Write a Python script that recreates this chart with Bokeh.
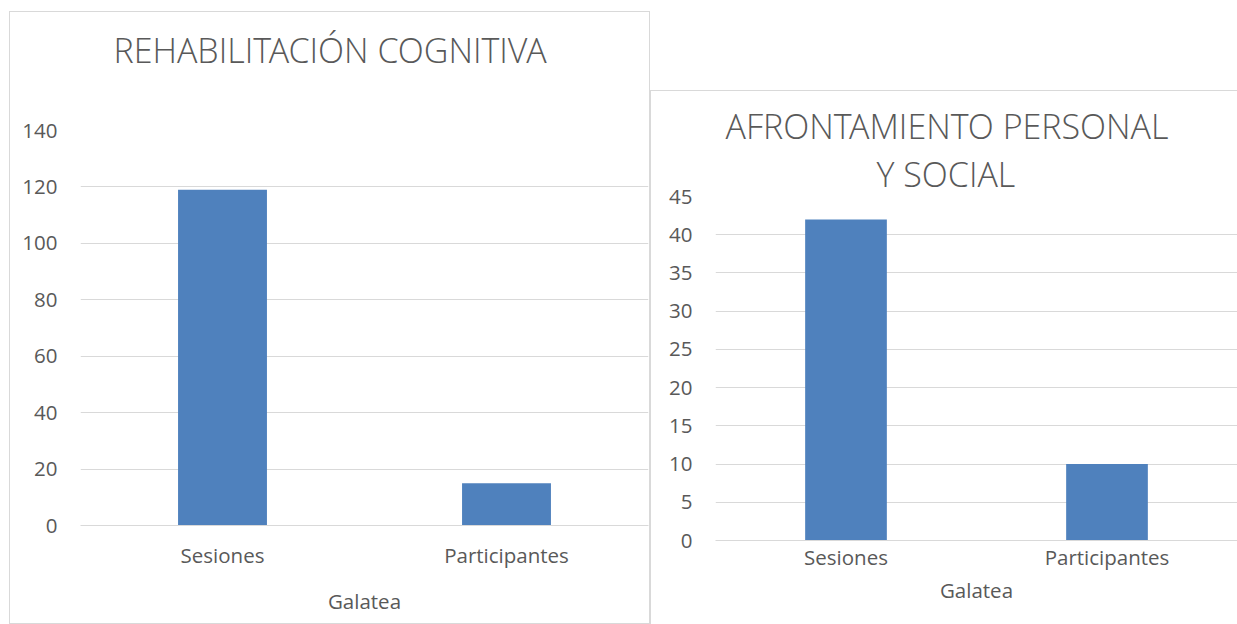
from bokeh.plotting import figure
from bokeh.models import FactorRange, Range1d, FixedTicker, Title
from bokeh.layouts import row
from bokeh.embed import file_html
from bokeh.resources import INLINE

# ---- data ----
group = "Galatea"
categories = ["Sesiones", "Participantes"]
rehab_values = [119, 15]
afront_values = [42, 10]
rehab_ticks = [0, 20, 40, 60, 80, 100, 120, 140]
afront_ticks = [0, 5, 10, 15, 20, 25, 30, 35, 40, 45]
rehab_title = ["REHABILITACIÓN COGNITIVA"]
afront_title = ["AFRONTAMIENTO PERSONAL", "Y SOCIAL"]

BAR = "#4f81bd"
TXT = "#595959"
GRID = "#d9d9d9"
FONT = "Open Sans"
TFONT = "Open Sans Light, Open Sans"
LBL = "20.5px"


def make(values, ticks, width, height, margin, mb, shadow, x_standoff):
    factors = [(group, c) for c in categories]
    p = figure(
        x_range=FactorRange(*factors, range_padding=0, factor_padding=0, group_padding=0),
        y_range=Range1d(0, ticks[-1]),
        width=width, height=height,
        output_backend="svg", toolbar_location=None,
        min_border_left=mb[0], min_border_right=mb[1],
        min_border_top=mb[2], min_border_bottom=mb[3],
    )
    p.frame_align = False
    p.margin = margin
    p.styles = {"box-shadow": shadow}
    p.outline_line_color = None
    p.background_fill_alpha = 0
    p.border_fill_alpha = 0

    p.vbar(x=factors, top=values, width=0.313, fill_color=BAR, line_color=None)

    # y axis
    yax = p.yaxis[0]
    yax.ticker = FixedTicker(ticks=ticks)
    yax.axis_line_color = None
    yax.major_tick_line_color = None
    yax.minor_tick_line_color = None
    yax.major_tick_in = 0
    yax.major_tick_out = 0
    yax.minor_tick_out = 0
    yax.major_label_standoff = 23
    yax.major_label_text_font = FONT
    yax.major_label_text_font_size = LBL
    yax.major_label_text_color = TXT

    # x axis (category + group levels)
    xax = p.xaxis[0]
    xax.axis_line_color = GRID
    xax.axis_line_width = 1
    xax.major_tick_line_color = None
    xax.minor_tick_line_color = None
    xax.major_tick_in = 0
    xax.major_tick_out = 0
    xax.major_label_standoff = x_standoff
    xax.major_label_text_font = FONT
    xax.major_label_text_font_size = LBL
    xax.major_label_text_color = TXT
    xax.group_text_font = FONT
    xax.group_text_font_size = LBL
    xax.group_text_color = TXT
    xax.group_text_font_style = "normal"
    xax.separator_line_color = None

    p.xgrid.grid_line_color = None
    p.ygrid.grid_line_color = GRID
    p.ygrid.grid_line_width = 1
    return p


def style_title(t, offset, standoff, size="34px"):
    t.align = "left"
    t.offset = offset
    t.standoff = standoff
    t.text_font = TFONT
    t.text_font_size = size
    t.text_font_style = "normal"
    t.text_color = TXT
    t.vertical_align = "bottom"


# left chart: page area x 9..650, y 11..624
p1 = make(rehab_values, rehab_ticks, 641, 613, (11, 0, 0, 9), (71, 2, 119, 99),
          "inset 1px 1px 0 0 #d9d9d9, inset -1px -1px 0 0 #d9d9d9", 15)
p1.title.text = rehab_title[0]
style_title(p1.title, 33, 0)
spacer = Title(text=" ")
style_title(spacer, 0, 55, size="1px")
p1.add_layout(spacer, "above")

# right chart: page area x 650..1237, y 90..624
p2 = make(afront_values, afront_ticks, 587, 534, (90, 0, 0, 0), (65, 0, 106, 84),
          "inset 1px 1px 0 0 #d9d9d9", 2)
p2.title.text = afront_title[0]
style_title(p2.title, 10, 0)
t2 = Title(text=afront_title[1])
style_title(t2, 161, 0)
p2.add_layout(t2, "above")

layout = row(p1, p2, spacing=0)
open("out.html", "w").write(file_html(layout, INLINE))
